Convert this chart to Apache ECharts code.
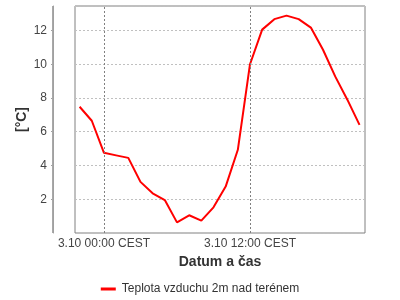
<!DOCTYPE html>
<html>
<head>
<meta charset="utf-8">
<script src="https://cdn.jsdelivr.net/npm/echarts@6/dist/echarts.min.js"></script>
<style>html,body{margin:0;padding:0;background:#fff}#c{width:400px;height:300px}</style>
</head>
<body>
<div id="c"></div>
<script>
// hours relative to 3.10 00:00 CEST
var hours = [-2,-1,0,1,2,3,4,5,6,7,8,9,10,11,12,13,14,15,16,17,18,19,20,21];
var temps = [7.48,6.65,4.75,4.6,4.45,3.03,2.35,1.95,0.63,1.05,0.73,1.52,2.75,4.93,10.0,12.05,12.67,12.88,12.67,12.17,10.86,9.28,7.9,6.41];
var tickHours = [0, 12];
var tickLabels = ['3.10 00:00 CEST', '3.10 12:00 CEST'];
var seriesName = 'Teplota vzduchu 2m nad terénem';
var xTitle = 'Datum a čas';
var yTitle = '[°C]';
var xMin = -2.38, xMax = 21.45, yMin = 0, yMax = 13.45;

var gridLeft = 75, gridRight = 35, gridTop = 6, gridBottom = 67, yOffset = 22;
var chart = echarts.init(document.getElementById('c'), null, {renderer: 'canvas'});
var pts = hours.map(function (h, i) { return [h, temps[i]]; });
var fontTick = {color: '#444', fontFamily: 'Liberation Sans', fontSize: 12};
chart.setOption({
  backgroundColor: '#ffffff',
  animation: false,
  grid: {left: gridLeft, right: gridRight, top: gridTop, bottom: gridBottom, show: true, borderColor: '#808080', borderWidth: 1, backgroundColor: 'transparent'},
  xAxis: {
    type: 'value', min: xMin, max: xMax,
    name: xTitle, nameLocation: 'middle', nameGap: 22, nameMoveOverlap: false,
    nameTextStyle: {fontFamily: 'Liberation Sans', fontWeight: 'bold', fontSize: 14, color: '#333'},
    axisLine: {show: false}, axisTick: {show: false}, splitLine: {show: false},
    axisLabel: Object.assign({
      customValues: tickHours, margin: 5,
      formatter: function (v) { var i = tickHours.indexOf(v); return i >= 0 ? tickLabels[i] : ''; }
    }, fontTick)
  },
  yAxis: {
    type: 'value', min: yMin, max: yMax, interval: 2, offset: yOffset, position: 'left',
    name: yTitle, nameLocation: 'middle', nameGap: 24, nameMoveOverlap: false,
    nameTextStyle: {fontFamily: 'Liberation Sans', fontWeight: 'bold', fontSize: 14, color: '#333'},
    axisLine: {show: true, onZero: false, lineStyle: {color: '#a0a0a0', width: 1}},
    axisTick: {show: true, length: 2, lineStyle: {color: '#a0a0a0'}},
    axisLabel: Object.assign({margin: 6, showMinLabel: false, showMaxLabel: false}, fontTick),
    splitLine: {show: true, lineStyle: {color: '#c0c0c0', type: [2, 2], width: 1}}
  },
  legend: {
    show: true, bottom: 0, left: 'center', icon: 'rect', itemWidth: 15, itemHeight: 3, itemGap: 10,
    textStyle: {fontFamily: 'Liberation Sans', fontSize: 12, color: '#333', padding: [0, 0, 0, 1]},
    data: [seriesName]
  },
  series: [{
    name: seriesName, type: 'line', data: pts, showSymbol: false, symbol: 'none',
    lineStyle: {color: '#ff0000', width: 2}, itemStyle: {color: '#ff0000'},
    markLine: {
      silent: true, symbol: 'none', label: {show: false},
      lineStyle: {color: '#808080', type: [2, 2], width: 1},
      data: tickHours.map(function (h) { return {xAxis: h}; })
    }
  }]
});
// offset y-axis line (fallback to grid layout if conversion unavailable)
var lx = gridLeft, yBot = 300 - gridBottom, yTop = gridTop;
try {
  var a = chart.convertToPixel({xAxisIndex: 0}, xMin);
  var b = chart.convertToPixel({yAxisIndex: 0}, yMin);
  var c = chart.convertToPixel({yAxisIndex: 0}, yMax);
  if (isFinite(a)) lx = a;
  if (isFinite(b)) yBot = b;
  if (isFinite(c)) yTop = c;
} catch (e) {}
var ax = Math.round(lx - yOffset) - 0.5;
chart.setOption({
  graphic: {
    elements: [{
      type: 'rect', id: 'yAxisLine', silent: true, z: 100,
      shape: {x: ax - 0.5, y: yTop, width: 1, height: yBot - yTop},
      style: {fill: '#a8a8a8'}
    }]
  }
});
</script>
</body>
</html>
